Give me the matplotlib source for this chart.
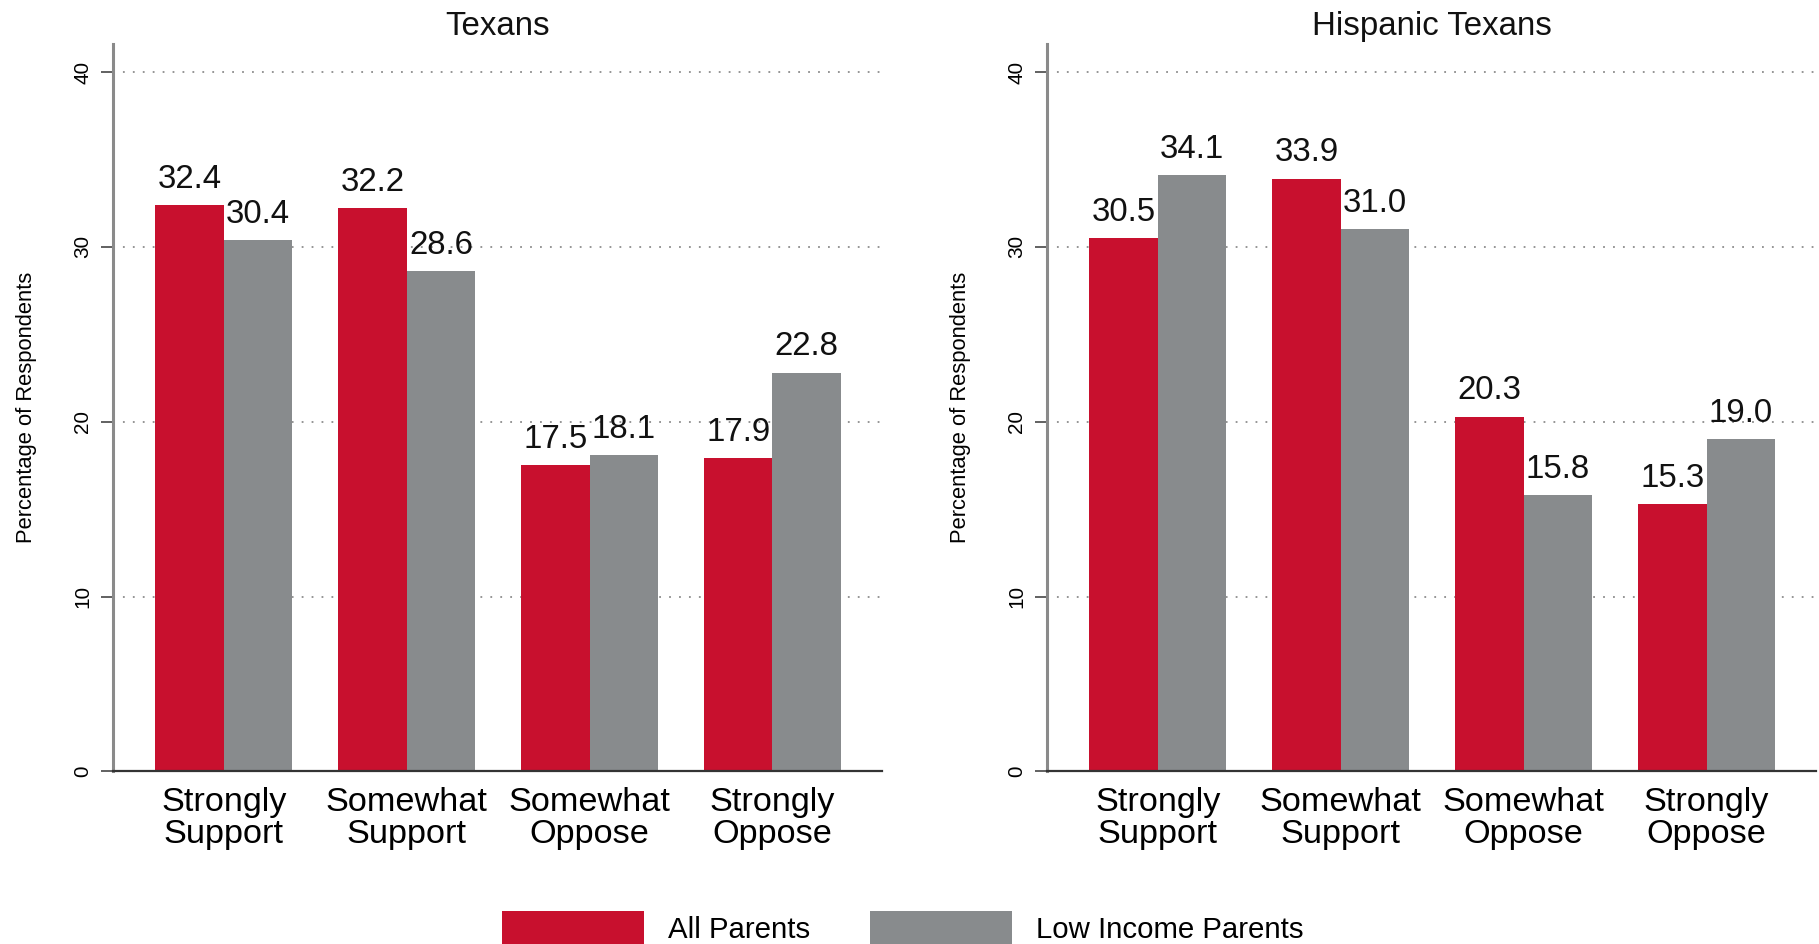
import matplotlib
matplotlib.use("Agg")
import matplotlib.pyplot as plt
from matplotlib import font_manager as fm
import numpy as np

# ---- data ----
categories = ["Strongly\nSupport", "Somewhat\nSupport", "Somewhat\nOppose", "Strongly\nOppose"]
panel_titles = ["Texans", "Hispanic Texans"]
series_names = ["All Parents", "Low Income Parents"]
texans_all = [32.4, 32.2, 17.5, 17.9]
texans_low = [30.4, 28.6, 18.1, 22.8]
hisp_all = [30.5, 33.9, 20.3, 15.3]
hisp_low = [34.1, 31.0, 15.8, 19.0]
yticks = [0, 10, 20, 30, 40]
ylabel = "Percentage of Respondents"

RED = "#C8102E"
GRAY = "#888B8D"


def has_font(name):
    try:
        fm.findfont(fm.FontProperties(family=name), fallback_to_default=False)
        return True
    except Exception:
        return False


NARROW = has_font("Liberation Sans Narrow")
FAM = "Liberation Sans Narrow" if NARROW else "Liberation Sans"
S = 1.0 if NARROW else 0.88
plt.rcParams["font.family"] = [FAM, "DejaVu Sans"]

fig = plt.figure(figsize=(18.19, 9.44), dpi=100)
axes = [fig.add_axes([0.0621, 0.1828, 0.4227, 0.7705]),
        fig.add_axes([0.5756, 0.1828, 0.4227, 0.7705])]
data = [(texans_all, texans_low), (hisp_all, hisp_low)]

x = np.arange(len(categories))
w = 0.374
handles = None
for ax, title, (a, b) in zip(axes, panel_titles, data):
    b1 = ax.bar(x - w / 2, a, w, color=RED, zorder=2, label=series_names[0])
    b2 = ax.bar(x + w / 2, b, w, color=GRAY, zorder=2, label=series_names[1])
    handles = [b1, b2]
    for bars, vals in ((b1, a), (b2, b)):
        for rect, v in zip(bars, vals):
            ax.annotate(f"{v:.1f}", (rect.get_x() + rect.get_width() / 2, v),
                        xytext=(0, 12.5), textcoords="offset points",
                        ha="center", va="baseline", fontsize=27 * S,
                        color="#111111", zorder=3)
    ax.set_xlim(-0.606, 3.598)
    ax.set_ylim(0, 41.6)
    ax.set_yticks(yticks)
    ax.set_yticklabels([str(t) for t in yticks], rotation=90, va="center",
                       fontsize=17 * S)
    ax.set_xticks(x)
    ax.set_xticklabels(categories, fontsize=28 * S)
    for t in ax.get_xticklabels():
        t.set_linespacing(1.05)
    ax.tick_params(axis="x", length=0, pad=11)
    ax.tick_params(axis="y", length=9, width=1.3, color="#555555", pad=6)
    for yv in yticks[1:]:
        ax.axhline(yv, color="#8c8c8c", lw=1.3, ls=(0, (1, 4.5)), zorder=1)
    for s in ("top", "right"):
        ax.spines[s].set_visible(False)
    ax.spines["left"].set_color("#8a8a8a")
    ax.spines["left"].set_linewidth(2.2)
    ax.spines["bottom"].set_color("#333333")
    ax.spines["bottom"].set_linewidth(1.6)
    ax.set_ylabel(ylabel, fontsize=18 * S, va="center")
    ax.yaxis.set_label_coords(-0.112, 0.50)
    ax.set_title(title, fontsize=27 * S, pad=6.5, color="#111111")

leg_fs = 24 * S
px = leg_fs * 100 / 72.0
fig.legend(handles, series_names, loc="center", bbox_to_anchor=(0.4962, 0.0170),
           ncol=2, frameon=False, fontsize=leg_fs, handlelength=142 / px,
           handleheight=40 / px, handletextpad=24 / px, columnspacing=60 / px,
           borderpad=0, borderaxespad=0)

fig.savefig("out.png", dpi=100, facecolor="white")
